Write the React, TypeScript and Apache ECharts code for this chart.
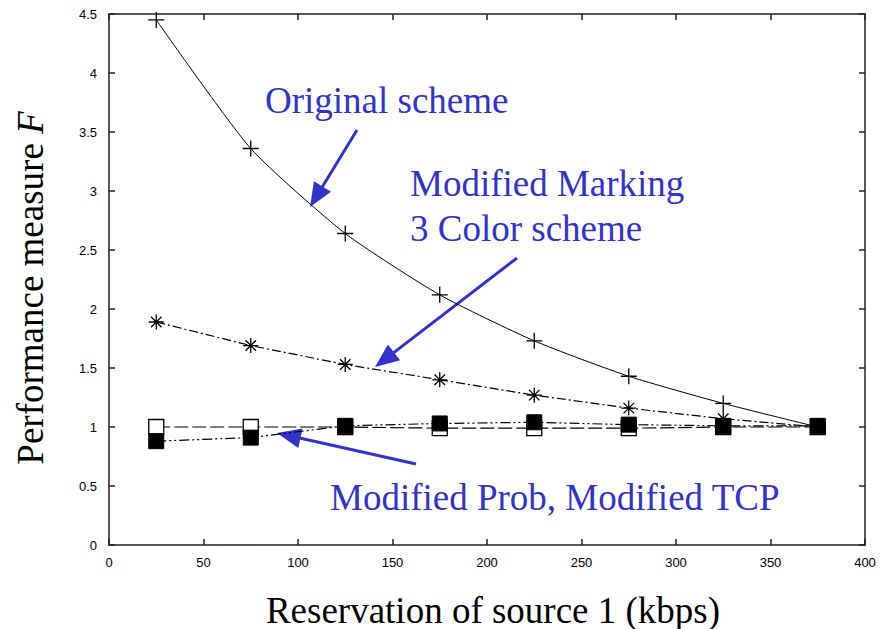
import React, { useEffect, useRef } from "react";
import * as echarts from "echarts";

const xValues = [25, 75, 125, 175, 225, 275, 325, 375];
const originalScheme = [4.45, 3.36, 2.64, 2.12, 1.73, 1.43, 1.2, 1.0];
const modifiedMarking = [1.89, 1.69, 1.53, 1.4, 1.27, 1.16, 1.07, 1.0];
const modifiedProb = [1.0, 1.0, 1.0, 0.99, 0.99, 0.99, 1.0, 1.0];
const modifiedTCP = [0.88, 0.91, 1.01, 1.03, 1.04, 1.02, 1.01, 1.01];
const xTicks = [0, 50, 100, 150, 200, 250, 300, 350, 400];
const yTicks = [0, 0.5, 1, 1.5, 2, 2.5, 3, 3.5, 4, 4.5];

const BLUE = "#3232cc";
const SERIF = "'Liberation Serif', 'Times New Roman', serif";
const SANS = "'Liberation Sans', Arial, sans-serif";
const FS = 37;

function arrow(x1: number, y1: number, x2: number, y2: number) {
  const dx = x2 - x1, dy = y2 - y1;
  const len = Math.sqrt(dx * dx + dy * dy);
  const ux = dx / len, uy = dy / len;
  const hl = 24, hw = 10;
  const bx = x2 - ux * hl, by = y2 - uy * hl;
  return [
    { type: "line", shape: { x1, y1, x2: bx + ux * 2, y2: by + uy * 2 }, style: { stroke: BLUE, lineWidth: 3 } },
    {
      type: "polygon",
      shape: { points: [[x2, y2], [bx - uy * hw, by + ux * hw], [bx + uy * hw, by - ux * hw]] },
      style: { fill: BLUE },
    },
  ];
}

const serifText = (text: string, x: number, y: number, color: string, align = "left") => ({
  type: "text", x, y,
  style: { text, fontFamily: SERIF, fontSize: FS, fill: color, align, verticalAlign: "middle" },
});

const pair = (ys: number[]) => xValues.map((x, i) => [x, ys[i]]);

export default function App() {
  const ref = useRef<HTMLDivElement>(null);
  useEffect(() => {
    document.body.style.margin = "0";
    const chart = echarts.init(ref.current!, null, { renderer: "svg" });
    const axisCommon = {
      type: "value" as const,
      axisLine: { show: true, onZero: false, lineStyle: { color: "#222", width: 1.5 } },
      axisTick: { show: true, inside: true, length: 6, lineStyle: { color: "#222", width: 1.5 } },
      splitLine: { show: false },
    };
    chart.setOption({
      animation: false,
      grid: { left: 109, right: 16, top: 14, bottom: 84 },
      xAxis: [
        {
          ...axisCommon, min: 0, max: 400, interval: 50,
          axisLabel: { color: "#000", fontFamily: SANS, fontSize: 13, margin: 11,
            formatter: (v: number) => (xTicks.includes(v) ? String(v) : "") },
        },
        { ...axisCommon, position: "top", min: 0, max: 400, interval: 50, axisLabel: { show: false } },
      ],
      yAxis: [
        {
          ...axisCommon, min: 0, max: 4.5, interval: 0.5,
          axisLabel: { color: "#000", fontFamily: SANS, fontSize: 13, margin: 12,
            formatter: (v: number) => (yTicks.includes(v) ? String(v) : "") },
        },
        { ...axisCommon, position: "right", min: 0, max: 4.5, interval: 0.5, axisLabel: { show: false } },
      ],
      series: [
        {
          name: "Original scheme", type: "line", data: pair(originalScheme), smooth: 0.2,
          symbol: "path://M0,5L10,5M5,0L5,10", symbolSize: 16,
          itemStyle: { color: "none", borderColor: "#000", borderWidth: 1.3 },
          lineStyle: { color: "#000", width: 1 }, z: 3,
        },
        {
          name: "Modified Marking 3 Color scheme", type: "line", data: pair(modifiedMarking),
          symbol: "path://M0,5L10,5M5,0L5,10M1.5,1.5L8.5,8.5M8.5,1.5L1.5,8.5", symbolSize: 15,
          itemStyle: { color: "none", borderColor: "#000", borderWidth: 1.3 },
          lineStyle: { color: "#000", width: 1.2, type: [9, 3, 2, 3] }, z: 3,
        },
        {
          name: "Modified Prob", type: "line", data: pair(modifiedProb),
          symbol: "rect", symbolSize: 15,
          itemStyle: { color: "#fff", borderColor: "#000", borderWidth: 1.3 },
          lineStyle: { color: "#000", width: 1.2, type: [14, 4] }, z: 4,
        },
        {
          name: "Modified TCP", type: "line", data: pair(modifiedTCP),
          symbol: "rect", symbolSize: 15,
          itemStyle: { color: "#000", borderColor: "#000", borderWidth: 1 },
          lineStyle: { color: "#000", width: 1.2, type: [10, 3, 2, 3, 2, 3] }, z: 5,
        },
      ],
      graphic: [
        serifText("Original scheme", 265, 100, BLUE),
        serifText("Modified Marking", 410, 183, BLUE),
        serifText("3 Color scheme", 410, 228, BLUE),
        serifText("Modified Prob, Modified TCP", 330, 497, BLUE),
        ...arrow(357, 130, 310, 207),
        ...arrow(517, 258, 375, 367),
        ...arrow(416, 464, 277, 433),
        serifText("Reservation of source 1 (kbps)", 493, 610, "#000", "center"),
        {
          type: "text", x: 30, y: 288, rotation: Math.PI / 2,
          style: {
            text: "{a|Performance measure }{b|F}", align: "center", verticalAlign: "middle",
            rich: {
              a: { fontFamily: SERIF, fontSize: FS, fill: "#000", color: "#000" },
              b: { fontFamily: SERIF, fontSize: FS, fontStyle: "italic", fill: "#000", color: "#000" },
            },
          },
        },
      ],
    });
    return () => chart.dispose();
  }, []);
  return <div ref={ref} style={{ width: 881, height: 629 }} />;
}
